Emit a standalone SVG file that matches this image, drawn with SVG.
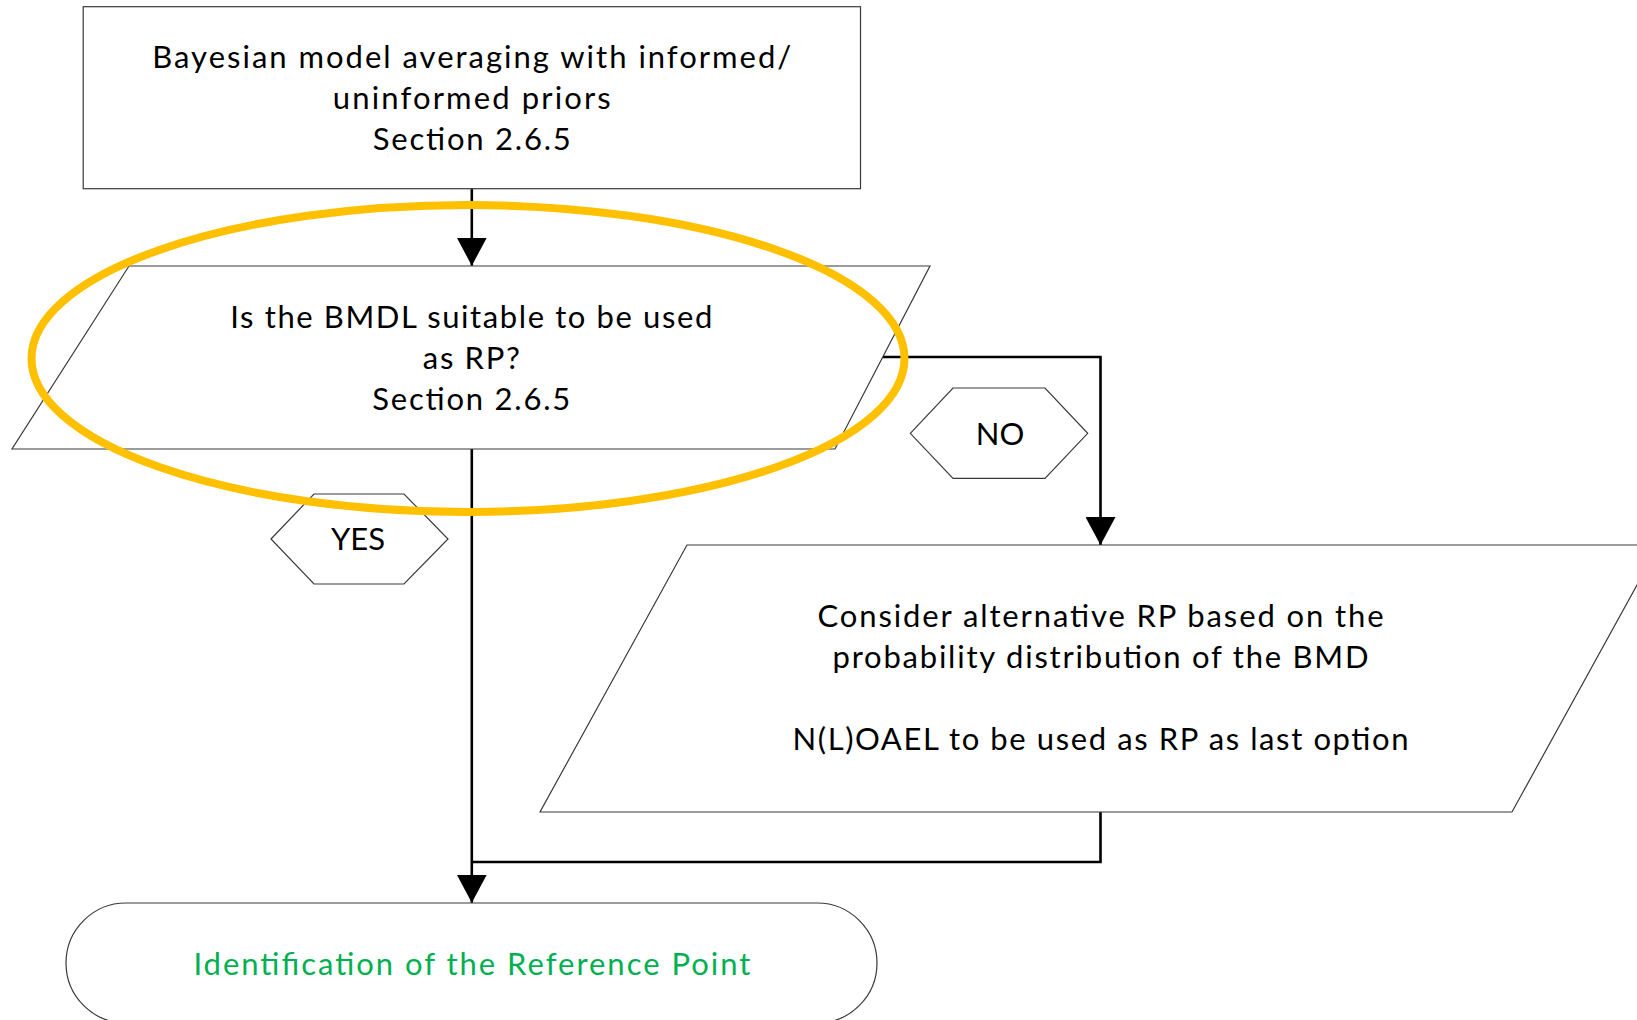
<svg xmlns="http://www.w3.org/2000/svg" width="1637" height="1020" viewBox="0 0 1637 1020">
  <style>
    .shape { fill: #ffffff; stroke: #3a3a3a; stroke-width: 1.2; }
    .conn { fill: none; stroke: #000000; stroke-width: 2.6; }
    .t { font-family: Lato, "Liberation Sans", sans-serif; font-size: 31px; fill: #000000; text-anchor: middle; }
    .green { fill: #00B050; }
    .hl { fill: none; stroke: #FFC000; stroke-width: 8; }
  </style>
  <defs>
    <marker id="arrow" markerUnits="userSpaceOnUse" markerWidth="28" markerHeight="30" viewBox="0 0 28 30" refX="28" refY="15" orient="auto">
      <path d="M0,0 L28,15 L0,30 Z" fill="#000000"/>
    </marker>
  </defs>

  <g id="connectors">
    <path class="conn" d="M471.8,189 V265.7" marker-end="url(#arrow)"/>
    <path class="conn" d="M881,357 H1100.5 V545" marker-end="url(#arrow)"/>
    <path class="conn" d="M471.8,449 V902.7" marker-end="url(#arrow)"/>
    <path class="conn" d="M1100.5,812 V862 H471.8"/>
  </g>

  <g id="node-bma">
    <rect class="shape" x="83.2" y="6.7" width="777.3" height="182"/>
    <text class="t" x="471.8" y="68" textLength="639" lengthAdjust="spacing">Bayesian model averaging with informed/</text>
    <text class="t" x="471.8" y="108.8" textLength="278" lengthAdjust="spacing">uninformed priors</text>
    <text class="t" x="471.8" y="149.8" textLength="198" lengthAdjust="spacing">Section 2.6.5</text>
  </g>

  <g id="node-bmdl-question">
    <polygon class="shape" points="129,266 930,266 835,449 12,449"/>
    <text class="t" x="471.3" y="328" textLength="482" lengthAdjust="spacing">Is the BMDL suitable to be used</text>
    <text class="t" x="471.3" y="368.5" textLength="97" lengthAdjust="spacing">as RP?</text>
    <text class="t" x="471.3" y="409.5" textLength="198" lengthAdjust="spacing">Section 2.6.5</text>
  </g>

  <g id="label-yes">
    <polygon class="shape" points="271,539 314,494 404,494 448,539 404,584 314,584"/>
    <text class="t" x="358" y="550">YES</text>
  </g>

  <g id="label-no">
    <polygon class="shape" points="910.3,433.3 953,388 1045,388 1087.7,433.3 1045,478.3 953,478.3"/>
    <text class="t" x="1000" y="444.8">NO</text>
  </g>

  <g id="node-alternative-rp">
    <polygon class="shape" points="687,545 1659,545 1512,812 540,812"/>
    <text class="t" x="1100.5" y="626.5" textLength="566" lengthAdjust="spacing">Consider alternative RP based on the</text>
    <text class="t" x="1100.5" y="668.2" textLength="536" lengthAdjust="spacing">probability distribution of the BMD</text>
    <text class="t" x="1100.5" y="750" textLength="616" lengthAdjust="spacing">N(L)OAEL to be used as RP as last option</text>
  </g>

  <g id="node-reference-point">
    <rect class="shape" x="66" y="903" width="811" height="120" rx="60" ry="60"/>
    <text class="t green" x="471.9" y="974.8" textLength="557" lengthAdjust="spacing">Identification of the Reference Point</text>
  </g>

  <g id="highlight">
    <ellipse class="hl" cx="468" cy="358.5" rx="436.5" ry="153.5"/>
  </g>
</svg>
